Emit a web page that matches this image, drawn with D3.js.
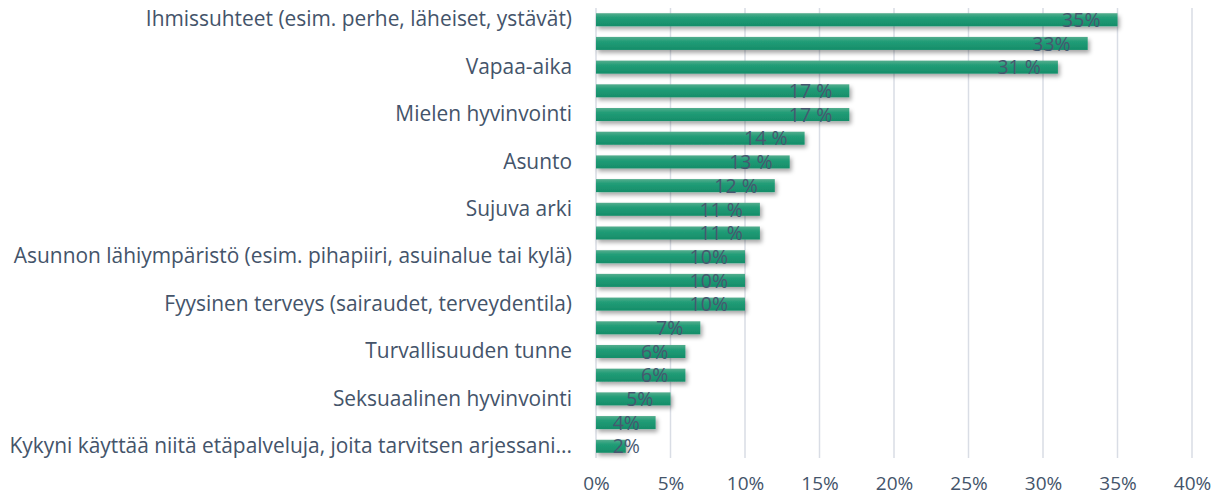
<!DOCTYPE html>
<html>
<head>
<meta charset="utf-8">
<script src="https://cdn.jsdelivr.net/npm/d3@7"></script>
<style>
    body { margin: 0; background: #ffffff; }
    svg { display: block; font-family: "Open Sans", sans-serif; }
    .grid line { stroke: #d9dde5; stroke-width: 1.5; }
    .tick text { fill: #44546a; }
</style>
</head>
<body>
<div id="chart"></div>
<script>
(function () {
    "use strict";

    // only every other category name is printed in the original chart
    const categories = [
        "Ihmissuhteet (esim. perhe, läheiset, ystävät)", "",
        "Vapaa-aika", "",
        "Mielen hyvinvointi", "",
        "Asunto", "",
        "Sujuva arki", "",
        "Asunnon lähiympäristö (esim. pihapiiri, asuinalue tai kylä)", "",
        "Fyysinen terveys (sairaudet, terveydentila)", "",
        "Turvallisuuden tunne", "",
        "Seksuaalinen hyvinvointi", "",
        "Kykyni käyttää niitä etäpalveluja, joita tarvitsen arjessani..."
    ];
    const values = [35, 33, 31, 17, 17, 14, 13, 12, 11, 11, 10, 10, 10, 7, 6, 6, 5, 4, 2];
    const valueLabels = ["35%", "33%", "31 %", "17 %", "17 %", "14 %", "13 %", "12 %", "11 %", "11 %",
        "10%", "10%", "10%", "7%", "6%", "6%", "5%", "4%", "2%"];
    const xTicks = [0, 5, 10, 15, 20, 25, 30, 35, 40];

    const width = 1219;
    const height = 500;
    const margin = { top: 8, right: 27, bottom: 42, left: 596 };
    const textColor = "#475870";
    const fontFamily = "'Open Sans', sans-serif";

    const svg = d3.select("#chart").append("svg")
        .attr("width", width)
        .attr("height", height);

    const defs = svg.append("defs");

    const grad = defs.append("linearGradient")
        .attr("id", "barFill")
        .attr("x1", 0).attr("y1", 0)
        .attr("x2", 0).attr("y2", 1);
    grad.append("stop").attr("offset", "0%").attr("stop-color", "#55ad8e");
    grad.append("stop").attr("offset", "35%").attr("stop-color", "#219d77");
    grad.append("stop").attr("offset", "100%").attr("stop-color", "#168d69");

    defs.append("filter")
        .attr("id", "shadow")
        .attr("x", "-10%").attr("y", "-50%")
        .attr("width", "130%").attr("height", "250%")
        .append("feDropShadow")
        .attr("dx", 2)
        .attr("dy", 3)
        .attr("stdDeviation", 2)
        .attr("flood-color", "#000")
        .attr("flood-opacity", 0.35);

    const innerWidth = width - margin.left - margin.right;
    const innerHeight = height - margin.top - margin.bottom;

    const xScale = d3.scaleLinear()
        .domain([0, 40])
        .range([0, innerWidth]);

    const yScale = d3.scaleBand()
        .domain(d3.range(values.length))
        .range([0, innerHeight])
        .paddingInner(0.45)
        .paddingOuter(0.22);

    const canvas = svg.append("g")
        .attr("transform", `translate(${margin.left},${margin.top})`);

    // vertical gridlines
    canvas.append("g")
        .attr("class", "grid")
        .selectAll("line")
        .data(xTicks)
        .join("line")
        .attr("x1", d => xScale(d))
        .attr("x2", d => xScale(d))
        .attr("y1", 0)
        .attr("y2", innerHeight);

    // x axis labels
    const xAxis = d3.axisBottom(xScale)
        .tickValues(xTicks)
        .tickSize(0)
        .tickPadding(19)
        .tickFormat(d => d + "%");

    canvas.append("g")
        .attr("transform", `translate(0,${innerHeight})`)
        .call(xAxis)
        .call(g => g.select(".domain").remove())
        .selectAll("text")
        .attr("font-size", 19)
        .attr("font-family", fontFamily);

    // y axis labels
    const yAxis = d3.axisLeft(yScale)
        .tickSize(0)
        .tickPadding(24)
        .tickFormat(i => categories[i]);

    canvas.append("g")
        .call(yAxis)
        .call(g => g.select(".domain").remove())
        .selectAll("text")
        .attr("font-size", 20.9)
        .attr("font-family", fontFamily);

    // bars
    canvas.append("g")
        .selectAll("rect")
        .data(values)
        .join("rect")
        .attr("x", 0)
        .attr("y", (d, i) => yScale(i))
        .attr("width", d => xScale(d))
        .attr("height", yScale.bandwidth())
        .attr("fill", "url(#barFill)")
        .attr("filter", "url(#shadow)");

    // value labels, inside end (short bars get pushed right)
    canvas.append("g")
        .selectAll("text")
        .data(values)
        .join("text")
        .attr("x", d => Math.max(xScale(d) - 17, 44))
        .attr("y", (d, i) => yScale(i) + yScale.bandwidth() / 2 + 2)
        .attr("text-anchor", "end")
        .attr("dominant-baseline", "middle")
        .attr("font-size", 19.5)
        .attr("font-family", fontFamily)
        .attr("fill", textColor)
        .text((d, i) => valueLabels[i]);
}());
</script>
</body>
</html>
